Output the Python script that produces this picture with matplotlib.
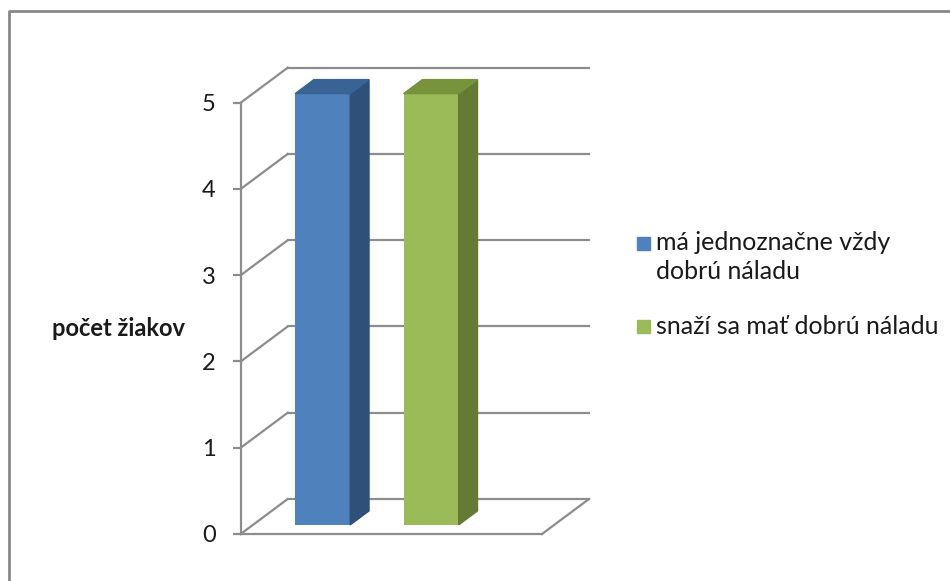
import matplotlib
matplotlib.use('Agg')
import matplotlib.pyplot as plt
from matplotlib.patches import Polygon
from matplotlib.lines import Line2D

# data
series = ['má jednoznačne vždy\ndobrú náladu', 'snaží sa mať dobrú náladu']
values = [5, 5]
ticks = [0, 1, 2, 3, 4, 5]
ylabel = 'počet žiakov'

# face colours: front, side, top
front = ['#4F81BD', '#9BBB59']
side = ['#2F5078', '#647A35']
top = ['#3A6395', '#77933C']

grid_c = '#8C8C8C'
plt.rcParams['font.family'] = ['Lato', 'DejaVu Sans']

fig = plt.figure(figsize=(9.5, 5.81), dpi=100)
W, H = 950, 581
# front plane of the 3d box, in pixels
x0, x1 = 240.7, 542.0
yb, yt = 534.0, 102.7
ax = fig.add_axes([x0 / W, (H - yb) / H, (x1 - x0) / W, (yb - yt) / H])
ax.set_xlim(0, 1)
ax.set_ylim(0, 5)

# depth direction (full depth) in data units
ddx = 47 / (x1 - x0)
ddy = 35 / ((yb - yt) / 5)


def pt(x, v, d):
    return (x + d * ddx, v + d * ddy)


lw = 1.6
# back wall gridlines and left wall diagonals
for v in ticks:
    ax.add_line(Line2D(*zip(pt(0, v, 1), pt(1, v, 1)), color=grid_c, lw=lw, clip_on=False))
    ax.add_line(Line2D(*zip(pt(0, v, 0), pt(0, v, 1)), color=grid_c, lw=lw, clip_on=False))
# floor
ax.add_line(Line2D(*zip(pt(0, 0, 0), pt(1, 0, 0)), color=grid_c, lw=lw, clip_on=False))
ax.add_line(Line2D(*zip(pt(1, 0, 0), pt(1, 0, 1)), color=grid_c, lw=lw, clip_on=False))

# 3d columns
bw = 0.183
lefts = [0.14, 0.50]
d0, d1 = 0.26, 0.66
for i, v in enumerate(values):
    l = lefts[i]
    r = l + bw
    ax.bar(l + d0 * ddx, v, width=bw, bottom=d0 * ddy, align='edge',
           color=front[i], clip_on=False, zorder=3)
    ax.add_patch(Polygon([pt(r, 0, d0), pt(r, 0, d1), pt(r, v, d1), pt(r, v, d0)],
                         closed=True, color=side[i], clip_on=False, zorder=3))
    ax.add_patch(Polygon([pt(l, v, d0), pt(r, v, d0), pt(r, v, d1), pt(l, v, d1)],
                         closed=True, color=top[i], clip_on=False, zorder=3))

# front-left vertical axis
for s in ['top', 'right', 'bottom']:
    ax.spines[s].set_visible(False)
ax.spines['left'].set_color(grid_c)
ax.spines['left'].set_linewidth(lw)
ax.set_yticks(ticks)
ax.set_xticks([])
ax.tick_params(axis='y', length=6, width=lw, color=grid_c, pad=12,
               labelsize=17, labelcolor='#1A1A1A')
ax.patch.set_visible(False)

fig.text(118 / W, 1 - 328 / H, ylabel, fontsize=17, fontweight='bold',
         ha='center', va='center', color='#1A1A1A')

# legend
sq = 13
for i, (lab, yc, ty) in enumerate(zip(series, [243.5, 326.5], [257, 326.5])):
    fig.patches.append(plt.Rectangle((637 / W, 1 - (yc + sq / 2) / H), sq / W, sq / H,
                                     transform=fig.transFigure, color=front[i]))
    fig.text(656 / W, 1 - ty / H, lab, fontsize=18, va='center', ha='left',
             color='#1A1A1A', linespacing=1.27)

# outer frame
fig.add_artist(Line2D([8.5 / W, 8.5 / W, 1], [0, 1 - 11 / H, 1 - 11 / H],
                      transform=fig.transFigure, color='#878787', lw=2))

fig.savefig('out.png', dpi=100)
